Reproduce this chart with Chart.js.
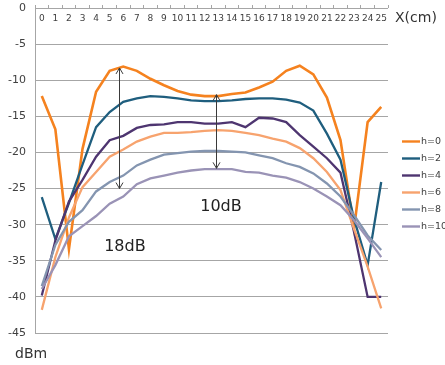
<!DOCTYPE html>
<html>
<head>
<meta charset="utf-8">
<script src="https://cdn.jsdelivr.net/npm/chart.js@4/dist/chart.umd.min.js"></script>
<style>
  html, body { margin: 0; padding: 0; background: #ffffff; }
  #wrap { width: 445px; height: 365px; position: relative; }
</style>
</head>
<body>
<div id="wrap"><canvas id="chart" width="445" height="365"></canvas></div>
<script>
// Position along the line (cm)
const positions = ['0','1','2','3','4','5','6','7','8','9','10','11','12','13','14','15','16','17','18','19','20','21','22','23','24','25'];

// Series names (height h)
const seriesLabels = ['h=0', 'h=2', 'h=4', 'h=6', 'h=8', 'h=10'];

// Received level in dBm for each height
const h0  = [-12.2, -16.8, -33.4, -19.5, -11.6, -8.7, -8.1, -8.7, -9.8, -10.7, -11.5, -12.0, -12.2, -12.2, -11.9, -11.7, -11.0, -10.2, -8.7, -8.0, -9.2, -12.4, -18.3, -30.5, -15.8, -13.7];
const h2  = [-26.2, -32.0, -27.0, -21.7, -16.5, -14.4, -13.0, -12.5, -12.2, -12.3, -12.5, -12.8, -12.9, -12.9, -12.8, -12.6, -12.5, -12.5, -12.7, -13.1, -14.2, -17.4, -21.0, -29.2, -35.6, -24.1];
const h4  = [-39.8, -32.2, -26.8, -23.8, -20.6, -18.3, -17.7, -16.6, -16.2, -16.1, -15.8, -15.8, -16.0, -16.0, -15.8, -16.5, -15.2, -15.3, -15.8, -17.6, -19.2, -20.8, -22.8, -31.0, -40.0, -40.0];
const h6  = [-41.8, -34.5, -29.0, -24.8, -22.7, -20.6, -19.6, -18.5, -17.8, -17.3, -17.3, -17.2, -17.0, -16.9, -17.0, -17.3, -17.6, -18.1, -18.5, -19.4, -20.8, -22.7, -25.2, -30.6, -35.8, -41.6];
const h8  = [-38.5, -32.8, -29.6, -28.0, -25.4, -24.1, -23.2, -21.8, -21.0, -20.3, -20.1, -19.9, -19.8, -19.8, -19.9, -20.0, -20.4, -20.8, -21.5, -22.0, -22.9, -24.3, -26.1, -28.7, -31.5, -33.5];
const h10 = [-38.9, -35.6, -31.6, -30.2, -28.8, -27.1, -26.1, -24.4, -23.6, -23.2, -22.8, -22.5, -22.3, -22.3, -22.3, -22.7, -22.8, -23.2, -23.5, -24.1, -25.0, -26.1, -27.3, -29.4, -31.9, -34.5];

// Y axis range and step (dBm)
const yMin = -45;
const yMax = 0;
const yStep = 5;

// Level-difference markers: arrow position (category index), arrow ends (dBm), label text and its anchor
const gapArrowX      = [5.72, 12.8];
const gapArrowTop    = [-8.3, -12.0];
const gapArrowBottom = [-25.0, -22.2];
const gapLabels      = ['18dB', '10dB'];
const gapLabelX      = [6.12, 13.2];
const gapLabelY      = [-33.1, -27.6];

// Axis unit captions
const xUnit = 'X(cm)';
const yUnit = 'dBm';

const seriesValues = [h0, h2, h4, h6, h8, h10];
const seriesColors = ['#F5821F', '#1F5E7E', '#4E3570', '#F7A36E', '#8495B0', '#9A93B6'];
const seriesWidths = [2.6, 2.3, 2.3, 2.3, 2.3, 2.3];

const FONT = '"DejaVu Sans", Verdana, sans-serif';
const GRID = '#A6A6A6';
const TEXT = '#404040';

// Double-headed arrows, their labels, the unit captions and the legend
const overlayPlugin = {
  id: 'overlay',
  afterDatasetsDraw(chart) {
    const ctx = chart.ctx;
    const xs = chart.scales.x;
    const ys = chart.scales.y;
    ctx.save();
    ctx.strokeStyle = '#3A3A3A';
    ctx.lineWidth = 1;
    for (let i = 0; i < gapArrowX.length; i++) {
      const x = Math.round(xs.getPixelForValue(gapArrowX[i])) + 0.5;
      const yt = ys.getPixelForValue(gapArrowTop[i]);
      const yb = ys.getPixelForValue(gapArrowBottom[i]);
      ctx.beginPath();
      ctx.moveTo(x, yt);
      ctx.lineTo(x, yb);
      ctx.moveTo(x - 3.5, yt + 6);
      ctx.lineTo(x, yt);
      ctx.lineTo(x + 3.5, yt + 6);
      ctx.moveTo(x - 3.5, yb - 6);
      ctx.lineTo(x, yb);
      ctx.lineTo(x + 3.5, yb - 6);
      ctx.stroke();
    }
    ctx.fillStyle = '#222222';
    ctx.font = '16px ' + FONT;
    ctx.textAlign = 'center';
    ctx.textBaseline = 'middle';
    for (let i = 0; i < gapLabels.length; i++) {
      ctx.fillText(gapLabels[i], xs.getPixelForValue(gapLabelX[i]), ys.getPixelForValue(gapLabelY[i]));
    }
    ctx.restore();
  },
  afterDraw(chart) {
    const ctx = chart.ctx;
    const area = chart.chartArea;
    ctx.save();
    ctx.fillStyle = '#333333';
    ctx.font = '14px ' + FONT;
    ctx.textAlign = 'left';
    ctx.textBaseline = 'alphabetic';
    ctx.fillText(xUnit, area.right + 7, area.top + 14);
    ctx.fillText(yUnit, 15, 358);

    // legend
    const ds = chart.data.datasets;
    ctx.font = '9.5px ' + FONT;
    ctx.textBaseline = 'middle';
    for (let i = 0; i < ds.length; i++) {
      const y = 141.5 + i * 17;
      ctx.strokeStyle = ds[i].borderColor;
      ctx.lineWidth = 2.4;
      ctx.beginPath();
      ctx.moveTo(402, y);
      ctx.lineTo(420, y);
      ctx.stroke();
      ctx.fillStyle = TEXT;
      ctx.fillText(ds[i].label, 421, y);
    }
    ctx.restore();
  }
};

const datasets = seriesLabels.map((label, i) => ({
  label: label,
  data: seriesValues[i],
  borderColor: seriesColors[i],
  backgroundColor: seriesColors[i],
  borderWidth: seriesWidths[i],
  pointRadius: 0,
  pointHoverRadius: 0,
  tension: 0,
  fill: false,
  order: seriesLabels.length - 1 - i
}));

new Chart(document.getElementById('chart'), {
  type: 'line',
  data: { labels: positions, datasets: datasets },
  options: {
    responsive: false,
    animation: false,
    devicePixelRatio: 1,
    layout: { padding: { left: 0, right: 57, top: 8, bottom: 32 } },
    plugins: {
      legend: { display: false },
      tooltip: { enabled: false }
    },
    scales: {
      x: {
        type: 'category',
        position: { y: 0 },
        offset: true,
        grid: {
          display: true,
          drawOnChartArea: false,
          drawTicks: true,
          tickLength: -3,
          offset: true,
          color: GRID
        },
        border: { display: false },
        ticks: {
          autoSkip: false,
          maxRotation: 0,
          padding: 8,
          color: TEXT,
          font: { family: FONT, size: 9 }
        }
      },
      y: {
        min: yMin,
        max: yMax,
        grid: { color: GRID, drawTicks: false, lineWidth: 1 },
        border: { display: true, color: GRID },
        ticks: {
          stepSize: yStep,
          padding: 9,
          color: TEXT,
          font: { family: FONT, size: 11 }
        },
        afterFit(scale) {
          scale.width = 35;
          scale.paddingTop = 0;
          scale.paddingBottom = 0;
        }
      }
    }
  },
  plugins: [overlayPlugin]
});
</script>
</body>
</html>
